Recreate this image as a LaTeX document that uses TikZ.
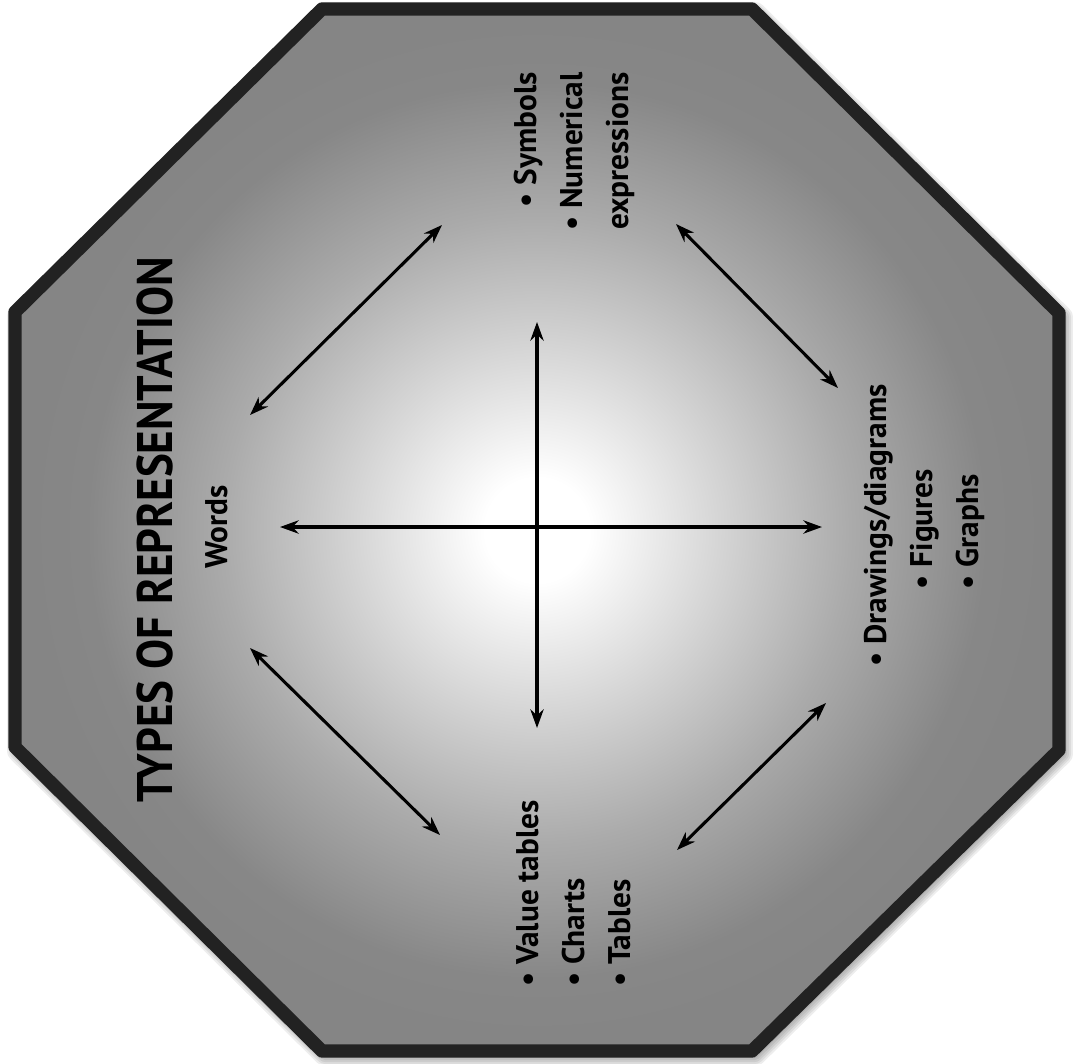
\documentclass[tikz,border=0pt]{standalone}
\usepackage{fontspec}
\setmainfont{PT Sans}
\newfontfamily\titlefont{PT Sans}[FakeStretch=0.9]
\usetikzlibrary{arrows.meta}
\definecolor{Rim}{RGB}{34,34,34}
\pgfdeclareradialshading{octglow}{\pgfpoint{0bp}{0bp}}{color(0bp)=(white); color(2.5bp)=(white); color(15bp)=(black!33); color(21.5bp)=(black!47); color(25bp)=(black!48); color(50bp)=(black!48)}
\tikzset{
  octagon/.style={insert path={(322,9) -- (752,9) -- (1059,313) -- (1059,750) -- (752,1051) -- (322,1051) -- (15,747) -- (15,312) -- cycle}},
  twoway/.style={{Stealth[length=14pt,width=10pt]}-{Stealth[length=14pt,width=10pt]},line width=2.3pt},
  txt/.style={rotate=90,inner sep=0pt,font=\bfseries\fontsize{23.5}{34.5}\selectfont}
}

\begin{document}
\begin{tikzpicture}[x=0.75pt,y=-0.75pt,line join=round]
\path[use as bounding box] (0,0) rectangle (1073,1063);
% soft shadow
\foreach \w in {22,18,14,10,6}
  \draw[shift={(3,4)},octagon,black,opacity=0.07,line width=\w*0.75pt];
\shade[shading=octglow,octagon];
\draw[octagon,Rim,line width=10pt];
% texts
\node[txt,font=\titlefont\bfseries\fontsize{37.5}{40}\selectfont] (title) at (155,530) {TYPES OF REPRESENTATION};
\node[txt] (words) at (217,527) {Words};
\node[txt,anchor=east,align=right] (symb) at (574,72) {\textbullet\ Symbols\\\textbullet\ Numerical\\expressions};
\node[txt,anchor=west,align=left] (draw) at (924,667) {\textbullet\ Drawings/diagrams\\\hspace*{58pt}\textbullet\ Figures\\\hspace*{58pt}\textbullet\ Graphs};
\node[txt,anchor=west,align=left] (tabl) at (574,987) {\textbullet\ Value tables\\\textbullet\ Charts\\\textbullet\ Tables};
% arrow ends
\coordinate (cN) at (537,322);
\coordinate (cS) at (537,728);
\coordinate (cW) at (280,527);
\coordinate (cE) at (822,527);
\coordinate (nwA) at (250,415);
\coordinate (nwB) at (442,225);
\coordinate (neA) at (676,224);
\coordinate (neB) at (838,388);
\coordinate (swA) at (250,648);
\coordinate (swB) at (440,835);
\coordinate (seA) at (677,850);
\coordinate (seB) at (826,703);
\draw[twoway] (cN) -- (cS);
\draw[twoway] (cW) -- (cE);
\draw[twoway] (nwA) -- (nwB);
\draw[twoway] (neA) -- (neB);
\draw[twoway] (swA) -- (swB);
\draw[twoway] (seA) -- (seB);
\end{tikzpicture}
\end{document}
